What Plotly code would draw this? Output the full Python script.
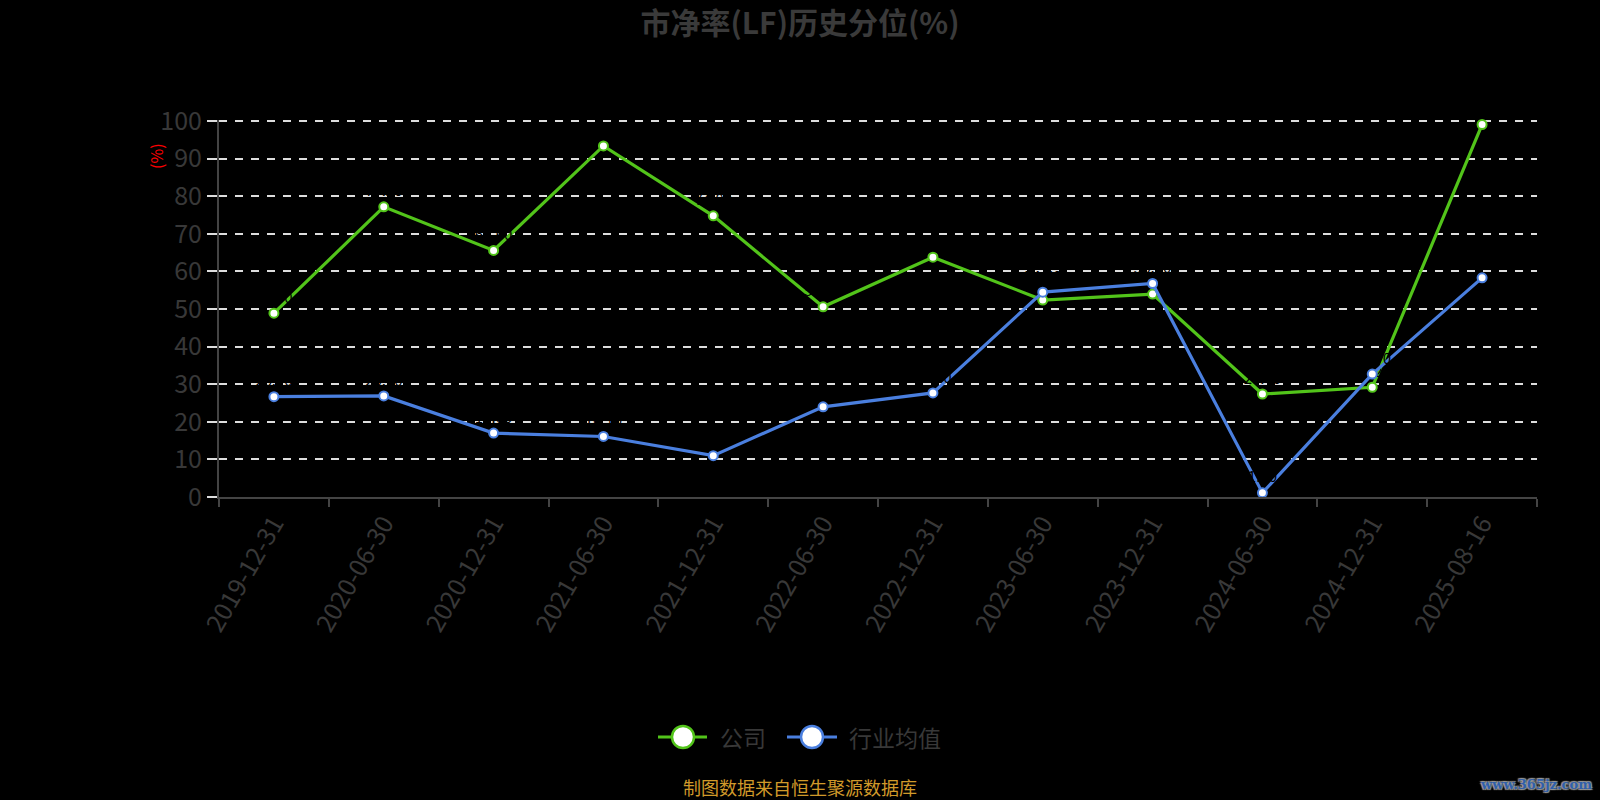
import plotly.graph_objects as go

categories = ["2019-12-31", "2020-06-30", "2020-12-31", "2021-06-30", "2021-12-31", "2022-06-30",
              "2022-12-31", "2023-06-30", "2023-12-31", "2024-06-30", "2024-12-31", "2025-08-16"]
company = [48.9, 77.2, 65.6, 93.4, 74.8, 50.6, 63.8, 52.4, 54.0, 27.4, 29.2, 99.1]
industry = [26.7, 26.9, 17.0, 16.1, 11.0, 24.0, 27.7, 54.5, 56.8, 1.1, 32.7, 58.3]
y_ticks = [0, 10, 20, 30, 40, 50, 60, 70, 80, 90, 100]

GREEN = "#52c41a"
BLUE = "#4a7fdf"
FONT = "Noto Sans CJK SC"
GRAY = "#383838"

W_PX, H_PX = 1600, 800
L, R, T, B = 219, 63, 120, 303
PW = W_PX - L - R
PH = H_PX - T - B


def px2x(px):
    return (px - L) / PW


def py2y(py):
    return (H_PX - B - py) / PH


fig = go.Figure()
for name, vals, col in [("公司", company, GREEN), ("行业均值", industry, BLUE)]:
    fig.add_trace(go.Scatter(
        x=categories, y=vals, name=name, mode="lines+markers+text",
        text=[f"{v:.2f}" for v in vals], textposition="top center",
        textfont=dict(color="#000000", size=15, family=FONT),
        line=dict(color=col, width=3.2),
        marker=dict(size=9, color="#ffffff", line=dict(color=col, width=2)),
        hoverinfo="skip", showlegend=False, cliponaxis=False,
    ))

fig.update_layout(
    width=W_PX, height=H_PX,
    paper_bgcolor="#000000", plot_bgcolor="#000000",
    margin=dict(l=L, r=R, t=T, b=B),
    font=dict(family=FONT, color=GRAY),
    title=dict(text="<b>市净率(LF)历史分位(%)</b>", x=0.5, xref="container", xanchor="center",
               y=1 - 23 / H_PX, yref="container", yanchor="middle",
               font=dict(size=30, color="#3a3a3a", family=FONT)),
    showlegend=False,
    xaxis=dict(type="category", categoryorder="array", categoryarray=categories,
               range=[-0.5, len(categories) - 0.5],
               showgrid=False, zeroline=False, showline=True, linecolor="#444444", linewidth=2,
               ticks="outside", tickson="boundaries", ticklen=8, tickcolor="#444444", tickwidth=2,
               tickangle=-60, tickfont=dict(size=25, color=GRAY, family=FONT)),
    yaxis=dict(range=[0, 100.3], tickvals=y_ticks, ticktext=[str(v) for v in y_ticks],
               showgrid=True, gridcolor="#dddddd", gridwidth=2, griddash="8px,8px",
               zeroline=False, showline=True, linecolor="#444444", linewidth=2,
               ticks="outside", ticklen=10, tickcolor="#dddddd", tickwidth=2,
               tickfont=dict(size=25, color=GRAY, family=FONT)),
)

# y-axis unit label
fig.add_annotation(x=px2x(156), y=py2y(156), xref="paper", yref="paper", text="(%)",
                   textangle=-90, showarrow=False, xanchor="center", yanchor="middle",
                   font=dict(size=16, color="#ff0000", family=FONT))

# manual legend
legend_items = [("公司", GREEN, 658, 707, 683, 718), ("行业均值", BLUE, 787, 837, 812, 847)]
ly = 737
for name, col, x0, x1, cx, tx in legend_items:
    fig.add_shape(type="line", xref="paper", yref="paper", x0=px2x(x0), x1=px2x(x1),
                  y0=py2y(ly), y1=py2y(ly), line=dict(color=col, width=3))
    fig.add_shape(type="circle", xref="paper", yref="paper", xsizemode="pixel", ysizemode="pixel",
                  xanchor=px2x(cx), yanchor=py2y(ly), x0=-11, x1=11, y0=-11, y1=11,
                  fillcolor="#ffffff", line=dict(color=col, width=2.5))
    fig.add_annotation(x=px2x(tx), y=py2y(ly), xref="paper", yref="paper", text=name,
                       xanchor="left", yanchor="middle", showarrow=False,
                       font=dict(size=23, color=GRAY, family=FONT))

# footer
fig.add_annotation(x=px2x(800), y=py2y(787), xref="paper", yref="paper",
                   text="制图数据来自恒生聚源数据库", showarrow=False, xanchor="center", yanchor="middle",
                   font=dict(size=18, color="#d19a2a", family=FONT))

# watermark
fig.add_annotation(x=px2x(1536), y=py2y(784), xref="paper", yref="paper",
                   text="<b>www.365jz.com</b>", showarrow=False, xanchor="center", yanchor="middle",
                   font=dict(size=13, color="#2f5fab", family="DejaVu Serif",
                             shadow="1px 1px 1px #999, -1px -1px 1px #999, 1px -1px 1px #999, -1px 1px 1px #999"))

fig.write_html("out.html", config={"displayModeBar": False},
               post_script="document.body.style.margin='0';document.body.style.background='#000';")
